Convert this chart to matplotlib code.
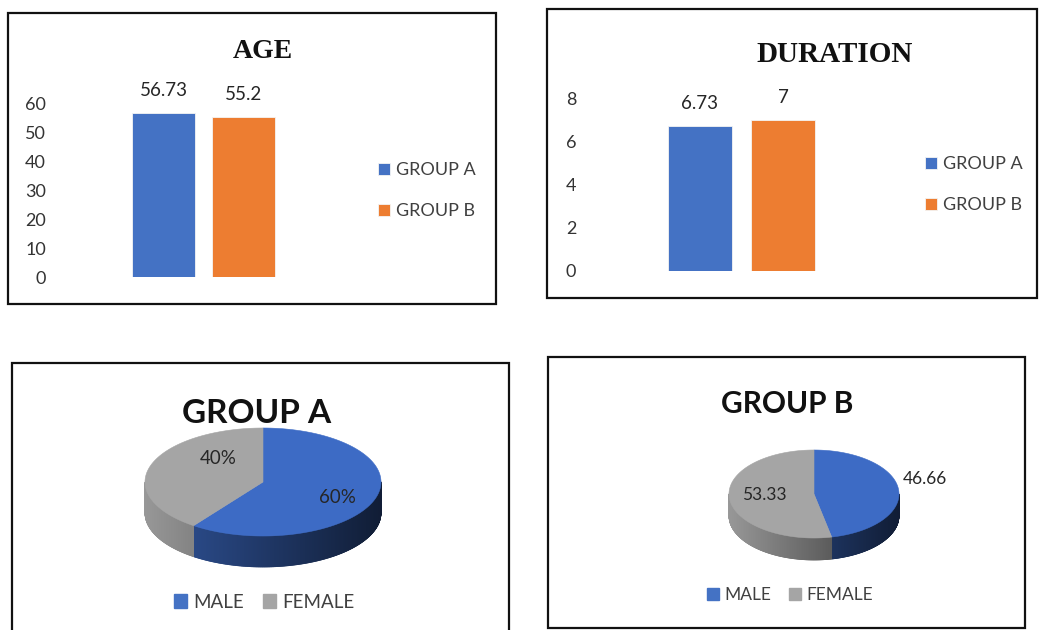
# Four panels: AGE and DURATION bars, plus 3D-looking sex split pies for each group

import numpy as np
import matplotlib.pyplot as plt
from matplotlib.patches import Rectangle, Patch, Polygon
from matplotlib.collections import PolyCollection

plt.rcParams['font.family'] = ['Lato', 'DejaVu Sans']

# Data
groups = ['GROUP A', 'GROUP B']
age = [56.73, 55.2]
duration = [6.73, 7]
age_ticks = [0, 10, 20, 30, 40, 50, 60]
duration_ticks = [0, 2, 4, 6, 8]

sexes = ['MALE', 'FEMALE']
sex_a = [60, 40]
sex_b = [46.66, 53.33]
sex_a_labels = ['60%', '40%']
sex_b_labels = ['46.66', '53.33']

bar_colors = ['#4472C4', '#ED7D31']
pie_colors = ['#3D6BC5', '#A5A5A5']
legend_pie_colors = ['#4472C4', '#A5A5A5']

W, H = 1041, 630
fig = plt.figure(figsize=(W / 100, H / 100), dpi=100)


def box(l, t, r, b):
    # pixel box (top-left origin) -> figure fraction rect
    return [l / W, 1 - b / H, (r - l) / W, (b - t) / H]


def fxy(x, y):
    return x / W, 1 - y / H


# panel borders
for l, t, r, b in [(8, 13, 496, 304), (547, 9, 1037, 298),
                   (12, 363, 509, 645), (548, 357, 1025, 628)]:
    fig.add_artist(Rectangle(fxy(l, b), (r - l) / W, (b - t) / H,
                             transform=fig.transFigure, fill=False,
                             edgecolor='#111111', linewidth=1.6))


def bar_panel(rect, values, ticks, xlim, width, title, title_xy, title_size, leg_xy):
    ax = fig.add_axes(rect)
    for i, (g, v, c) in enumerate(zip(groups, values, bar_colors)):
        ax.bar(i, v, width=width, color=c, label=g, edgecolor='#f4f4f4', linewidth=0.6)
        ax.annotate(f'{v:g}', (i, v), xytext=(0, 16), textcoords='offset points',
                    ha='center', va='center', fontsize=13.5, color='#262626')
    ax.set_ylim(0, ticks[-1])
    ax.set_xlim(*xlim)
    ax.set_yticks(ticks)
    ax.set_xticks([])
    for s in ax.spines.values():
        s.set_visible(False)
    ax.tick_params(axis='y', length=0, pad=10, labelsize=13, labelcolor='#333333')
    ax.patch.set_alpha(0)
    ax.legend(loc='center left', bbox_to_anchor=fxy(*leg_xy), bbox_transform=fig.transFigure,
              frameon=False, fontsize=13, handlelength=0.65, handleheight=0.65,
              handletextpad=0.35, labelspacing=1.38, borderpad=0, borderaxespad=0,
              labelcolor='#404040')
    fig.text(*fxy(*title_xy), title, ha='center', va='baseline', fontsize=title_size,
             family='Liberation Serif', weight='bold', color='#111111')


# AGE: 0 at y=277.3 px, 60 at y=103.3 px, bar centres 163.7 / 243.7 px
bar_panel(box(60, 103.3, 350, 277.3), age, age_ticks, (-1.296, 2.329), 0.79,
          'AGE', (263, 58), 20, (378, 190.5))
# DURATION: 0 at y=270.7 px, 8 at y=98.7 px, bar centres 700 / 783 px
bar_panel(box(590, 98.7, 900, 270.7), duration, duration_ticks, (-1.325, 2.41), 0.78,
          'DURATION', (835, 62), 21, (925, 184.5))


def pie_panel(values, texts, cx, cy, rx, ry, depth, lab_r, lab_d, lab_size,
              title, title_xy, title_size, leg_xy, leg_size):
    k = 1.6
    ax = fig.add_axes(box(cx - k * rx, cy - k * rx, cx + k * rx, cy + k * rx))
    ax.set_xlim(-k, k)
    ax.set_ylim(-k, k)
    ax.axis('off')
    e = ry / rx
    d = depth / rx
    total = sum(values)
    start = 90.0
    walls, wall_cols, tops = [], [], []
    mids = []
    for v, c in zip(values, pie_colors):
        sweep = 360.0 * v / total
        t = np.radians(np.linspace(start - sweep, start, int(sweep * 3) + 2))
        mids.append(start - sweep / 2)
        start -= sweep
        base = np.array(plt.matplotlib.colors.to_rgb(c))
        for a0, a1 in zip(t[:-1], t[1:]):
            if np.sin((a0 + a1) / 2) >= 0:
                continue
            x0, x1 = np.cos(a0), np.cos(a1)
            y0, y1 = e * np.sin(a0), e * np.sin(a1)
            walls.append([(x0, y0), (x1, y1), (x1, y1 - d), (x0, y0 - d)])
            u = (np.cos((a0 + a1) / 2) + 1) / 2
            f = 0.92 - 0.6 * u
            if c == pie_colors[0]:
                f *= 0.85
            wall_cols.append(np.clip(base * f, 0, 1))
        pts = [(0, 0)] + [(np.cos(a), e * np.sin(a)) for a in t]
        tops.append(Polygon(pts, closed=True, facecolor=c, edgecolor=c, linewidth=0.4, zorder=3))
    ax.add_collection(PolyCollection(walls, facecolors=wall_cols, edgecolors=wall_cols,
                                     linewidths=0.5, zorder=2))
    for p in tops:
        ax.add_patch(p)
    for m, txt, r, dd in zip(mids, texts, lab_r, lab_d):
        a = np.radians(m + dd)
        ax.text(r * np.cos(a), r * e * np.sin(a), txt, ha='center', va='center',
                fontsize=lab_size, color='#262626', zorder=4)
    handles = [Patch(color=c, label=s) for s, c in zip(sexes, legend_pie_colors)]
    ax.legend(handles=handles, loc='center', bbox_to_anchor=fxy(*leg_xy),
              bbox_transform=fig.transFigure, ncol=2, frameon=False, fontsize=leg_size,
              handlelength=0.7, handleheight=0.7, handletextpad=0.32, columnspacing=1.0,
              borderpad=0, borderaxespad=0, labelcolor='#404040')
    fig.text(*fxy(*title_xy), title, ha='center', va='baseline', fontsize=title_size,
             weight='bold', color='#111111')


pie_panel(sex_a, sex_a_labels, 263, 482, 118, 54, 31, [0.69, 0.58], [-6, -31], 13.5,
          'GROUP A', (257, 422.7), 24, (264, 602), 13.5)
pie_panel(sex_b, sex_b_labels, 814, 494, 85, 44, 22, [1.35, 0.58], [9, -4], 12.5,
          'GROUP B', (787, 413), 21.5, (790, 595), 12.5)

plt.savefig('out.png', dpi=100)
